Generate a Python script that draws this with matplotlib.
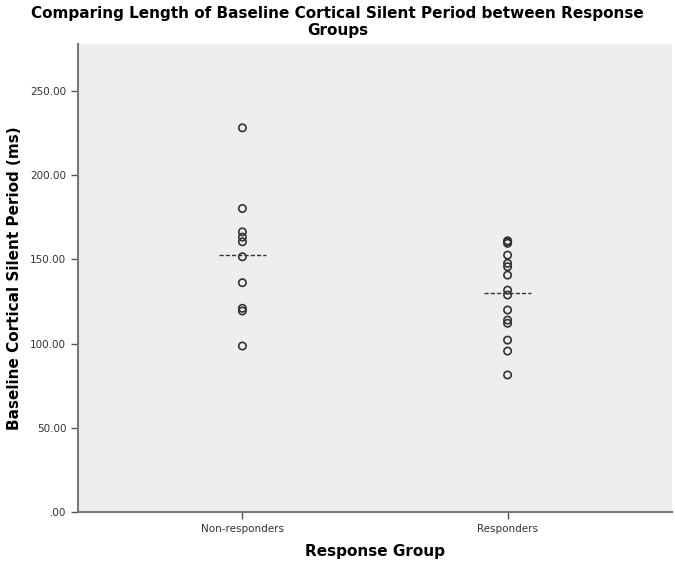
import matplotlib
matplotlib.use("Agg")
import matplotlib.pyplot as plt
import numpy as np

categories = ["Non-responders", "Responders"]
non_responders = [228.2, 180.3, 166.4, 163.3, 160.5, 151.6, 136.2, 121.0, 119.4, 98.6]
responders = [161.1, 160.5, 159.6, 152.6, 147.7, 145.7, 140.7, 131.8, 128.9,
              120.0, 114.0, 112.1, 102.1, 95.6, 81.4]
yticks = [0, 50, 100, 150, 200, 250]
ytick_labels = [".00", "50.00", "100.00", "150.00", "200.00", "250.00"]

groups = [non_responders, responders]

fig = plt.figure(figsize=(6.75, 5.64), dpi=100)
ax = fig.add_axes([78/675, 1 - 512/564, (672-78)/675, (512-44)/564])
ax.set_facecolor("#eeeeee")

for i, vals in enumerate(groups):
    ax.scatter(np.full(len(vals), i), vals, s=28, facecolors="none",
               edgecolors="#333333", linewidths=1.2, zorder=3)
    m = np.mean(vals)
    ax.plot([i - 0.09, i + 0.09], [m, m], ls=(0, (3, 1.5)), color="#333333",
            lw=1.0, zorder=2)

ax.set_xlim(-0.62, 1.62)
ax.set_ylim(0, 278)
ax.set_xticks(range(len(categories)))
ax.set_xticklabels(categories, fontsize=7.5, color="#333333")
ax.set_yticks(yticks)
ax.set_yticklabels(ytick_labels, fontsize=7.5, color="#333333")
ax.tick_params(axis="both", direction="out", length=5, width=1, color="#555555")
ax.tick_params(axis="x", pad=4)

for side in ["top", "right"]:
    ax.spines[side].set_visible(False)
for side in ["left", "bottom"]:
    ax.spines[side].set_color("#777777")
    ax.spines[side].set_linewidth(1.5)

ax.set_ylabel("Baseline Cortical Silent Period (ms)", fontsize=11, fontweight="bold", labelpad=6)
ax.set_xlabel("Response Group", fontsize=11, fontweight="bold", labelpad=7)
fig.text(0.5, 1 - 22/564, "Comparing Length of Baseline Cortical Silent Period between Response\nGroups",
         ha="center", va="center", fontsize=11, fontweight="bold", linespacing=1.1)

fig.savefig("out.png", dpi=100, facecolor="white")
